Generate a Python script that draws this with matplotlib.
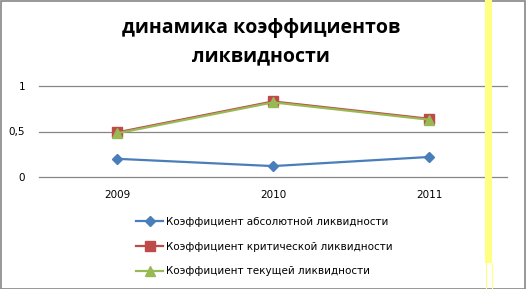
import matplotlib
matplotlib.use("Agg")
import matplotlib.pyplot as plt
from matplotlib.patches import Rectangle
from matplotlib.lines import Line2D

years = ["2009", "2010", "2011"]
abs_liq = [0.20, 0.12, 0.22]
crit_liq = [0.49, 0.83, 0.64]
cur_liq = [0.48, 0.82, 0.63]
series_names = ["Коэффициент абсолютной ликвидности",
                "Коэффициент критической ликвидности",
                "Коэффициент текущей ликвидности"]
yticks = [0, 0.5, 1]
ytick_labels = ["0", "0,5", "1"]
title = "динамика коэффициентов\nликвидности"

W, H = 526, 289
fig = plt.figure(figsize=(W/100, H/100), dpi=100)
fig.patch.set_facecolor("white")

# outer frame
fig.add_artist(Rectangle((0.5/W, 0.5/H), (W-1.5)/W, (H-1.5)/H, transform=fig.transFigure,
                         fill=False, edgecolor="#868686", linewidth=1.2))

ax = fig.add_axes([39/W, (H-177)/H, (507-39)/W, 91/H])
x = list(range(len(years)))
ax.plot(x, abs_liq, color="#4A7EBB", lw=1.6, marker="D", ms=5, label=series_names[0])
ax.plot(x, crit_liq, color="#BE4B48", lw=1.6, marker="s", ms=6.5, label=series_names[1])
ax.plot(x, cur_liq, color="#98B954", lw=1.6, marker="^", ms=6.5, label=series_names[2])
ax.set_xlim(-0.5, 2.5)
ax.set_ylim(0, 1)
ax.set_yticks(yticks)
ax.set_yticklabels(ytick_labels)
ax.set_xticks(x)
ax.set_xticklabels(years)
ax.grid(axis="y", color="#868686", lw=0.9)
for gl in ax.get_ygridlines():
    gl.set_clip_on(False)
ax.set_axisbelow(True)
for s in ax.spines.values():
    s.set_visible(False)
ax.tick_params(length=0, labelsize=7.5, pad=10)
ax.tick_params(axis="x", pad=9)
for lab in ax.get_xticklabels() + ax.get_yticklabels():
    lab.set_fontfamily("DejaVu Sans")
ax.patch.set_alpha(0)

fig.text(261/W, 1 - 42/H, title, ha="center", va="center", fontsize=14, fontweight="bold",
         fontfamily="Open Sans", linespacing=1.55)

leg = fig.legend(loc="upper left", bbox_to_anchor=(136/W, 1 - 217/H), frameon=False,
                 handlelength=2.6, handletextpad=0.3, labelspacing=1.4,
                 borderpad=0, borderaxespad=0, prop={"family": "DejaVu Sans", "size": 7.5})

# yellow highlight band
fig.add_artist(Rectangle((485/W, 26/H), 7/W, 1 - 26/H, transform=fig.transFigure,
                         facecolor="#FFFF80", edgecolor="none"))
fig.add_artist(Line2D([485.5/W, 485.5/W], [0, 26/H], transform=fig.transFigure, color="#FFFF80", lw=0.8))
fig.add_artist(Line2D([491.5/W, 491.5/W], [0, 26/H], transform=fig.transFigure, color="#FFFF80", lw=0.8))

fig.savefig("out.png", dpi=100)
